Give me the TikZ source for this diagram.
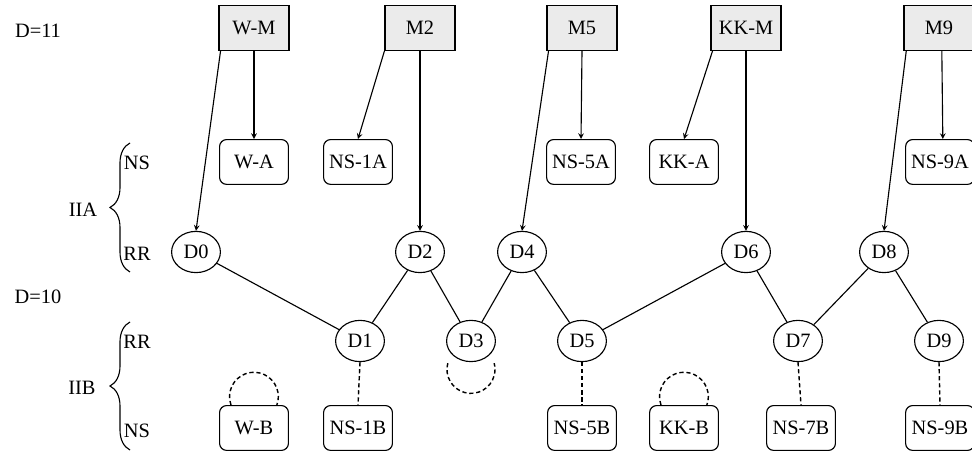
\documentclass[tikz,border=0pt]{standalone}
\usepackage{fontspec}
\setmainfont{Liberation Serif}
\usetikzlibrary{shapes,arrows,calc,positioning,decorations.pathreplacing}
\tikzstyle{master}=[rectangle,draw=black,fill=black!8,line width=0.8pt,minimum width=1.75cm,minimum height=1.12cm]
\tikzstyle{agent}=[rectangle,rounded corners=5pt,draw=black,line width=0.8pt,minimum width=1.72cm,minimum height=1.12cm]
\tikzstyle{dnode}=[ellipse,draw=black,line width=0.8pt,minimum width=1.22cm,minimum height=1.03cm,inner sep=0pt]
\tikzstyle{link}=[line width=0.8pt]
\tikzstyle{weak}=[line width=1pt,dash pattern=on 3pt off 2pt]
\tikzstyle{bracket}=[decorate,decoration={brace,amplitude=0.5cm},line width=0.8pt]

\begin{document}
\begin{tikzpicture}[>=stealth,x=0.025cm,y=0.025cm,font=\fontsize{14.5}{16}\selectfont]
    \useasboundingbox (0,0) rectangle (972,452);

    % top row
    \node[master](wm) at (254,424){W-M};
    \node[master](m2) at (420,424){M2};
    \node[master](m5) at (582,424){M5};
    \node[master](kkm) at (746,424){KK-M};
    \node[master](m9) at (939,424){M9};

    \node[agent](wa) at (254,290){W-A};
    \node[agent](ns1a) at (358,290){NS-1A};
    \node[agent](ns5a) at (581,290){NS-5A};
    \node[agent](kka) at (684,290){KK-A};
    \node[agent](ns9a) at (940,290){NS-9A};

    \node[dnode](d0) at (196,200){D0};
    \node[dnode](d2) at (420,200){D2};
    \node[dnode](d4) at (522,200){D4};
    \node[dnode](d6) at (746,200){D6};
    \node[dnode](d8) at (884,200){D8};

    \node[dnode](d1) at (360,111){D1};
    \node[dnode](d3) at (471,111){D3};
    \node[dnode](d5) at (582,111){D5};
    \node[dnode](d7) at (798,111){D7};
    \node[dnode](d9) at (939,111){D9};

    \node[agent](wb) at (254,24){W-B};
    \node[agent](ns1b) at (358,24){NS-1B};
    \node[agent](ns5b) at (582,24){NS-5B};
    \node[agent](kkb) at (684,24){KK-B};
    \node[agent](ns7b) at (801,24){NS-7B};
    \node[agent](ns9b) at (940,24){NS-9B};

    % side labels
    \node(d11) at (38,421){D=11};
    \node(d10) at (38,155){D=10};
    \node(nsa) at (137,289){NS};
    \node(rra) at (137,198){RR};
    \node(iia) at (83,242){IIA};
    \node(rrb) at (137,110){RR};
    \node(nsb) at (137,21){NS};
    \node(iib) at (82,64){IIB};
    \draw[bracket] (130,180) -- (130,309);
    \draw[bracket] (130,2) -- (130,130);

    \draw[link,->]([xshift=1.5pt]wm.south west) -- (d0.north);
    \draw[link,->](wm.south) -- (wa.north);
    \draw[link,->](m2.south west) -- (ns1a.north);
    \draw[link,->](m2.south) -- (d2.north);
    \draw[link,->]([xshift=1.5pt]m5.south west) -- (d4.north);
    \draw[link,->](m5.south) -- (ns5a.north);
    \draw[link,->]([xshift=1.5pt]kkm.south west) -- (kka.north);
    \draw[link,->](kkm.south) -- (d6.north);
    \draw[link,->]([xshift=2pt]m9.south west) -- (d8.north);
    \draw[link,->]([xshift=2pt]m9.south) -- ([xshift=2pt]ns9a.north);

    \draw[link](d0) -- (d1);
    \draw[link](d1) -- (d2);
    \draw[link](d2) -- (d3);
    \draw[link](d3) -- (d4);
    \draw[link](d4) -- (d5);
    \draw[link](d5) -- (d6);
    \draw[link](d6) -- (d7);
    \draw[link](d7) -- (d8);
    \draw[link](d8) -- (d9);

    \draw[weak](d1.south) -- (ns1b.north);
    \draw[weak](d5.south) -- (ns5b.north);
    \draw[weak](d7.south) -- (ns7b.north);
    \draw[weak](d9.south) -- (ns9b.north);

    \draw[weak]([xshift=-0.575cm]wb.north) arc[start angle=200,end angle=-20,radius=0.61cm];
    \draw[weak]([xshift=-0.575cm]kkb.north) arc[start angle=200,end angle=-20,radius=0.61cm];
    \draw[weak]([xshift=-0.58cm,yshift=-0.025cm]d3.south) arc[start angle=165,end angle=375,radius=0.6cm];
  \end{tikzpicture}
\end{document}
